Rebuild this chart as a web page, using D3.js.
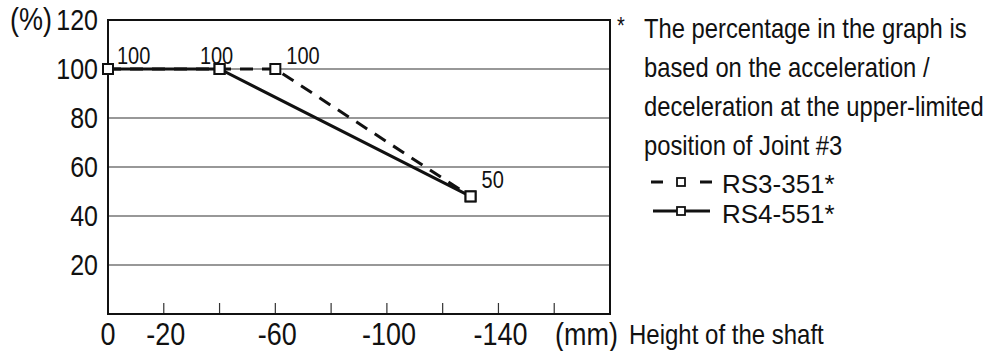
<!DOCTYPE html>
<html>
<head>
<meta charset="utf-8">
<script src="https://cdn.jsdelivr.net/npm/d3@7"></script>
<style>
  body { margin: 0; background: #fff; }
  text { font-family: "Liberation Sans", Arial, sans-serif; fill: #111; }
</style>
</head>
<body>
<div id="chart"></div>
<script>
// values
const xTicks = [0, -20, -40, -60, -80, -100, -120, -140, -160, -180];
const xTickLabels = [0, -20, -60, -100, -140];
const yTicks = [20, 40, 60, 80, 100, 120];

const rs3X = [0, -40, -60, -130];
const rs3Y = [100, 100, 100, 48];
const rs4X = [0, -40, -130];
const rs4Y = [100, 100, 48];

const pointLabelX = [0, -40, -60, -130];
const pointLabelY = [100, 100, 100, 48];
const pointLabelText = ["100", "100", "100", "50"];

const noteLines = [
  "The percentage in the graph is",
  "based on the acceleration /",
  "deceleration at the upper-limited",
  "position of Joint #3"
];
const seriesNames = ["RS3-351*", "RS4-551*"];

var width = 990, height = 351;
var stretch = 1.15; // the original text is a bit taller than wide

var svg = d3.select("#chart").append("svg")
    .attr("width", width)
    .attr("height", height);

var x = d3.scaleLinear().domain([0, -180]).range([108, 610]);
var y = d3.scaleLinear().domain([0, 120]).range([314, 20]);

function label(g, px, py, size, anchor, str, sy) {
    return g.append("text")
        .attr("transform", "translate(" + px + "," + py + ") scale(1," + (sy || stretch) + ")")
        .attr("text-anchor", anchor)
        .style("font-size", size + "px")
        .text(str);
}

// grid lines
svg.selectAll(".grid")
    .data(yTicks.slice(0, -1))
    .enter().append("line")
    .attr("x1", x(0)).attr("x2", x(-180))
    .attr("y1", d => y(d)).attr("y2", d => y(d))
    .attr("stroke", "#333").attr("stroke-width", 1.2);

// inner ticks on the bottom
svg.selectAll(".xtick")
    .data(xTicks.slice(1, -1))
    .enter().append("line")
    .attr("x1", d => x(d)).attr("x2", d => x(d))
    .attr("y1", y(0)).attr("y2", y(0) - 11)
    .attr("stroke", "#333").attr("stroke-width", 1.2);

// frame
svg.append("rect")
    .attr("x", x(0)).attr("y", y(120))
    .attr("width", x(-180) - x(0)).attr("height", y(0) - y(120))
    .attr("fill", "none").attr("stroke", "#111").attr("stroke-width", 2);

// y labels
yTicks.forEach(function(d) {
    label(svg, 98, y(d) + 10, 25, "end", d);
});
label(svg, 10, y(120) + 10, 27, "start", "(%)");

// x labels
xTickLabels.forEach(function(d) {
    label(svg, x(d) + (d === 0 ? 0 : 2), 345, 27, "middle", d);
});
label(svg, 555, 345, 27, "start", "(mm)");
label(svg, 629, 344, 24, "start", "Height of the shaft");

// series
var line = d3.line().x(d => x(d[0])).y(d => y(d[1]));
var rs3 = d3.zip(rs3X, rs3Y);
var rs4 = d3.zip(rs4X, rs4Y);

svg.append("path").datum(rs3)
    .attr("d", line)
    .attr("fill", "none").attr("stroke", "#111")
    .attr("stroke-width", 3).attr("stroke-dasharray", "13,9");
svg.append("path").datum(rs4)
    .attr("d", line)
    .attr("fill", "none").attr("stroke", "#111")
    .attr("stroke-width", 3);

var pts = rs3.concat(rs4);
svg.selectAll(".mark")
    .data(pts)
    .enter().append("rect")
    .attr("x", d => x(d[0]) - 5).attr("y", d => y(d[1]) - 5)
    .attr("width", 10).attr("height", 10)
    .attr("fill", "#fff").attr("stroke", "#111").attr("stroke-width", 2);

// point labels
var labelShift = [[9, -5, "start"], [-3, -5, "middle"], [11, -5, "start"], [11, -8, "start"]];
pointLabelText.forEach(function(d, i) {
    label(svg, x(pointLabelX[i]) + labelShift[i][0], y(pointLabelY[i]) + labelShift[i][1],
          20, labelShift[i][2], d);
});

// note
label(svg, 617, 34, 20, "start", "*");
noteLines.forEach(function(d, i) {
    label(svg, 644, 38 + i * 39, 23.8, "start", d);
});

// legend
var lg = svg.append("g");
lg.append("line").attr("x1", 651).attr("x2", 712).attr("y1", 182).attr("y2", 182)
    .attr("stroke", "#111").attr("stroke-width", 3).attr("stroke-dasharray", "12,37");
lg.append("line").attr("x1", 653).attr("x2", 710).attr("y1", 211).attr("y2", 211)
    .attr("stroke", "#111").attr("stroke-width", 3);
lg.selectAll(".lgm")
    .data([182, 211])
    .enter().append("rect")
    .attr("x", 677).attr("y", d => d - 4)
    .attr("width", 8).attr("height", 8)
    .attr("fill", "#fff").attr("stroke", "#111").attr("stroke-width", 1.8);
seriesNames.forEach(function(d, i) {
    label(lg, 722, 193 + i * 30, 26, "start", d, 1.02);
});
</script>
</body>
</html>
